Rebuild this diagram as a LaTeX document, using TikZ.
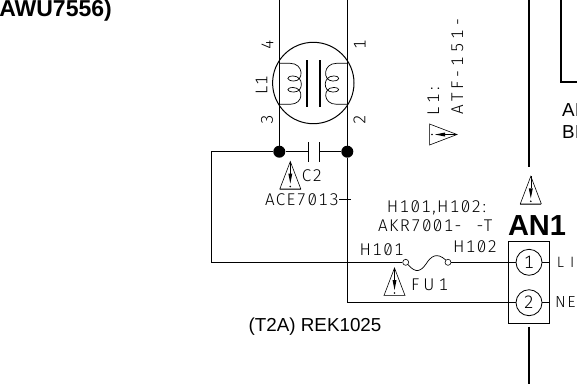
\documentclass[tikz,border=0pt]{standalone}
\usepackage{fontspec}
\setmainfont{Liberation Sans}
\newfontfamily\cadfont[Numbers={Monospaced,SlashedZero},LetterSpace=8]{Fira Sans Light}
\newfontfamily\cadwide[Numbers={Monospaced,SlashedZero},LetterSpace=24]{Fira Sans Light}
\usetikzlibrary{positioning, arrows.meta, calc}

\begin{document}
\begin{tikzpicture}[
    x=1pt, y=-1pt,
    wire/.style={draw=black, line width=0.8pt},
    bus/.style={draw=black, line width=2pt},
    term/.style={circle, draw=black, line width=0.8pt, minimum size=26pt, inner sep=0pt, font=\cadfont\fontsize{18}{18}\selectfont},
    dot/.style={circle, fill=black, minimum size=12pt, inner sep=0pt},
    pin/.style={circle, draw=black, fill=white, line width=0.6pt, minimum size=6pt, inner sep=0pt},
    cad/.style={inner sep=0pt, font=\cadfont\fontsize{17}{18}\selectfont},
    cadw/.style={inner sep=0pt, font=\cadwide\fontsize{17}{18}\selectfont},
    plain/.style={inner sep=0pt, font=\fontsize{18.8}{20}\selectfont},
    warn/.pic={
        \draw[line width=0.6pt] (0,-14) -- (-10.5,13.5) -- (10.5,13.5) -- cycle;
        \draw[line width=1.1pt, draw=black!70] (-10.5,13.8) -- (10.5,13.8);
        \draw[line width=0.4pt] (0,-14) -- (0,-2);
        \fill (-2,-2) -- (2,-2) -- (0,8) -- cycle;
        \fill (0,11) circle (0.9);
    }
]
\useasboundingbox (0,0) rectangle (577,383);

\begin{scope}
\clip (0,0) rectangle (577,383);

% Choke
\coordinate (top3) at (279.3,-2);
\coordinate (top1) at (347.3,-2);
\node[dot] (dotL) at (279.3,151.7) {};
\node[dot] (dotR) at (347.3,151.7) {};
\draw[line width=1pt] (313.3,83) circle (40.7);
\draw[wire] (top3) -- (dotL);
\draw[wire] (top1) -- (dotR);

% Coils and core
\draw[line width=0.7pt] (279.3,63.3) -- (290,63.3)
    .. controls (304,63.3) and (304,81) .. (294,81)
    .. controls (286,81) and (286,76) .. (293,76)
    .. controls (304,76) and (304,92) .. (294,92)
    .. controls (286,92) and (286,87.5) .. (293,87.5)
    .. controls (304,87.5) and (304,104.3) .. (290,104.3) -- (279.3,104.3);
\draw[line width=0.7pt] (347.3,63.3) -- (336.6,63.3)
    .. controls (322.6,63.3) and (322.6,81) .. (332.6,81)
    .. controls (340.6,81) and (340.6,76) .. (333.6,76)
    .. controls (322.6,76) and (322.6,92) .. (332.6,92)
    .. controls (340.6,92) and (340.6,87.5) .. (333.6,87.5)
    .. controls (322.6,87.5) and (322.6,104.3) .. (336.6,104.3) -- (347.3,104.3);
\draw[line width=1.6pt] (307,60) -- (307,107);
\draw[line width=1.6pt] (319.7,60) -- (319.7,107);

% Capacitor C2
\coordinate (capA) at (308,151.7);
\coordinate (capB) at (319,151.7);
\draw[wire] (dotL) -- (capA);
\draw[wire] (capB) -- (dotR);
\draw[line width=0.8pt] (308,142) -- (308,162);
\draw[line width=0.8pt] (319,142) -- (319,162);

% Terminal block
\node[draw=black, line width=0.9pt, minimum width=41pt, minimum height=81.5pt, inner sep=0pt] (AN) at (529.2,282.3) {};
\node[term] (t1) at (529,262.3) {1};
\node[term] (t2) at (529,302.7) {2};
\draw[wire] (t1.east) -- (AN.east |- t1);
\draw[wire] (t2.east) -- (AN.east |- t2);

% Fuse
\node[pin] (fuseL) at (405.7,262.3) {};
\node[pin] (fuseR) at (448,262.3) {};
\draw[line width=0.7pt] (fuseL.south east) .. controls (416,274) and (421,271) .. (426,264)
    .. controls (431,256) and (437,252) .. (fuseR.north west);

% Wiring
\coordinate (leftTop) at (211.7,151.7);
\coordinate (leftBot) at (211.7,262.3);
\coordinate (rightBot) at (347.3,302.7);
\draw[wire] (dotL) -- (leftTop) -- (leftBot) -- (fuseL);
\draw[wire] (fuseR) -- (t1);
\draw[wire] (dotR) -- (rightBot) -- (t2);

% Bus lines and box
\coordinate (busTop) at (529.3,-2);
\coordinate (busMid) at (529.3,167);
\coordinate (busLow) at (529.3,326.7);
\coordinate (busEnd) at (529.3,385);
\draw[bus] (busTop) -- (busMid);
\draw[bus] (busLow) -- (busEnd);
\coordinate (boxTop) at (561,-2);
\coordinate (boxCor) at (561,81.7);
\coordinate (boxEnd) at (579,81.7);
\draw[bus] (boxTop) -- (boxCor) -- (boxEnd);

% Warning marks
\pic at (290.3,175.5) {warn};
\pic at (394.5,282) {warn};
\pic at (530.8,190.3) {warn};
\pic[rotate=-90] at (443,134.5) {warn};

% Labels
\node[cad, rotate=90] (lb4) at (267.5,45) {4};
\node[cad, rotate=90] (lb1) at (359.7,45) {1};
\node[cad, rotate=90] (lbL) at (261.5,85) {L1};
\node[cad, rotate=90] (lb3) at (267,119.5) {3};
\node[cad, rotate=90] (lb2) at (359.5,119.5) {2};
\node[cad, anchor=base west] (lbC) at (301.7,181.7) {C2};
\node[cad, anchor=base east] (lbACE) at (339,205) {ACE7013};
\coordinate (aceEnd) at (350.7,199.5);
\draw[wire] (lbACE.east |- aceEnd) -- (aceEnd);
\node[cadw, rotate=90, anchor=base west] (lbL1) at (439,116) {L1:};
\node[cadw, rotate=90, anchor=base west] (lbATF) at (463,115) {ATF-151-};
\node[cad, anchor=base west] (lbH) at (386.7,212) {H101,H102:};
\node[cad, anchor=base west] (lbAKR) at (378,231) {AKR7001- \kern9pt-T};
\node[cad, anchor=base west] (lbH101) at (359.5,255) {H101};
\node[cad, anchor=base west] (lbH102) at (453,252.7) {H102};
\node[cadw, anchor=base west] (lbFU) at (411,290.7) {FU1};
\node[inner sep=0pt, anchor=base west, font=\cadfont\fontsize{15}{15}\selectfont] (lbLI) at (556.7,267) {L\kern6pt I};
\node[inner sep=0pt, anchor=base west, font=\cadfont\fontsize{16}{16}\selectfont] (lbNE) at (555,307) {NE};
\node[inner sep=0pt, anchor=base, font=\bfseries\fontsize{29}{29}\selectfont] (lbAN) at (537,235) {AN1};
\node[plain, anchor=base west] (lbREK) at (248.5,331) {(T2A) REK1025};
\node[plain, anchor=base west] (lbA) at (562,116.7) {AI};
\node[plain, anchor=base west] (lbB) at (562,138) {BI};
\node[inner sep=0pt, anchor=base east, font=\bfseries\fontsize{23}{24}\selectfont] (lbAWU) at (112,16.7) {AWU7556)};
\end{scope}
\end{tikzpicture}
\end{document}
